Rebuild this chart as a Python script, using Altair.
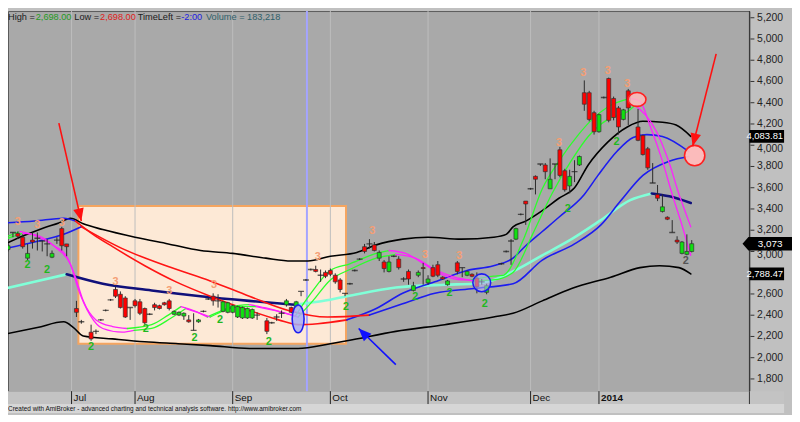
import altair as alt
import pandas as pd

# ---------------- candles (bar index, OHLC) ----------------
bars = [0, 1, 2, 3, 4, 5, 6, 7, 8, 9,
        10, 11, 12, 14, 15, 17, 18, 19, 20, 21,
        22, 23, 24, 25, 26, 27, 28, 29, 30, 31,
        32, 33, 34, 35, 36, 37, 38, 39, 40, 41,
        42, 43, 44, 45, 46, 47, 48, 49, 50, 51,
        53, 54, 55, 56, 57, 58, 59, 60, 61, 62,
        63, 64, 65, 66, 67, 68, 69, 70, 71, 72,
        73, 74, 75, 76, 77, 78, 79, 80, 81, 82,
        83, 84, 85, 86, 87, 88, 89, 90, 92, 93,
        94, 95, 96, 97, 98, 101, 102, 103, 104, 105,
        106, 107, 108, 109, 110, 111, 112, 113, 114, 115,
        116, 117, 118, 119, 120, 121, 122, 123, 124, 125,
        126, 127, 129, 130, 131, 132, 133, 134, 135, 136,
        137, 138, 139, 140]
opens = [3018, 3179, 3170, 3134, 2937, 3107, 3125, 3098, 3071, 2946,
         3107, 3215, 3071, 2463, 2338, 2240, 2248, 2356, 2445, 2544,
         2642, 2597, 2562, 2472, 2535, 2526, 2463, 2409, 2499, 2490,
         2517, 2535, 2409, 2401, 2392, 2356, 2257, 2338, 2436, 2553,
         2579, 2535, 2436, 2427, 2427, 2383, 2374, 2374, 2374, 2401,
         2347, 2329, 2383, 2418, 2499, 2472, 2481, 2624, 2732, 2830,
         2830, 2776, 2803, 2821, 2776, 2732, 2606, 2696, 2821, 2928,
         3045, 3071, 3062, 2937, 2901, 2812, 2955, 2928, 2741, 2812,
         2633, 2776, 2848, 2705, 2848, 2875, 2758, 2687, 2893, 2848,
         2776, 2785, 2749, 2714, 2615, 2884, 3000, 3098, 3116, 3349,
         3474, 3590, 3707, 3823, 3814, 3590, 3823, 3957, 3760, 3617,
         3751, 3814, 4494, 4494, 4306, 4127, 4449, 4628, 4440, 4351,
         4243, 4512, 4172, 4091, 3966, 3644, 3537, 3376, 3322, 3179,
         3107, 2982, 2973, 3000]
highs = [3071, 3179, 3188, 3161, 3071, 3179, 3179, 3098, 3116, 3009,
         3134, 3232, 3071, 2535, 2356, 2311, 2266, 2365, 2454, 2553,
         2669, 2624, 2579, 2472, 2553, 2553, 2472, 2418, 2517, 2499,
         2526, 2553, 2445, 2436, 2427, 2401, 2418, 2365, 2445, 2562,
         2606, 2597, 2535, 2526, 2499, 2490, 2481, 2472, 2463, 2427,
         2374, 2338, 2409, 2445, 2553, 2481, 2535, 2624, 2741, 2839,
         2866, 2830, 2821, 2839, 2794, 2749, 2606, 2705, 2830, 2937,
         3071, 3116, 3089, 3009, 2919, 2955, 2964, 2955, 2758, 2830,
         2714, 2821, 2893, 2776, 2875, 2910, 2767, 2732, 2910, 2848,
         2821, 2794, 2803, 2741, 2696, 2893, 3009, 3116, 3224, 3358,
         3474, 3599, 3716, 3823, 3832, 3876, 3823, 3984, 3778, 3769,
         3859, 3903, 4610, 4512, 4324, 4297, 4458, 4637, 4458, 4368,
         4342, 4530, 4342, 4100, 3984, 3832, 3626, 3537, 3331, 3295,
         3143, 3098, 3161, 3107]
lows = [3000, 3134, 3116, 3027, 2919, 3027, 3009, 3000, 2955, 2937,
        3071, 3009, 2955, 2383, 2320, 2159, 2222, 2347, 2436, 2535,
        2562, 2463, 2374, 2356, 2472, 2401, 2311, 2401, 2445, 2454,
        2490, 2445, 2401, 2392, 2356, 2329, 2257, 2329, 2427, 2544,
        2490, 2472, 2427, 2418, 2418, 2374, 2365, 2365, 2365, 2356,
        2222, 2320, 2347, 2374, 2481, 2418, 2472, 2579, 2723, 2821,
        2803, 2714, 2749, 2767, 2696, 2615, 2579, 2687, 2812, 2919,
        2982, 3027, 3000, 2910, 2803, 2803, 2946, 2830, 2714, 2687,
        2624, 2758, 2687, 2687, 2758, 2758, 2732, 2678, 2785, 2758,
        2767, 2758, 2606, 2687, 2597, 2875, 2991, 2875, 3107, 3340,
        3250, 3581, 3537, 3805, 3680, 3590, 3680, 3698, 3563, 3546,
        3653, 3805, 4324, 4225, 4100, 4118, 4440, 4216, 4234, 4100,
        4234, 4190, 4038, 3903, 3769, 3644, 3474, 3367, 3295, 3179,
        3071, 2973, 2964, 2991]
closes = [3054, 3179, 3143, 3045, 2982, 3089, 3125, 3098, 3071, 2982,
          3107, 3054, 3045, 2427, 2338, 2177, 2248, 2356, 2445, 2544,
          2579, 2472, 2383, 2472, 2490, 2418, 2329, 2409, 2472, 2463,
          2499, 2463, 2436, 2427, 2418, 2338, 2257, 2356, 2436, 2553,
          2535, 2535, 2526, 2517, 2490, 2481, 2472, 2463, 2454, 2401,
          2248, 2329, 2383, 2418, 2535, 2427, 2526, 2624, 2732, 2830,
          2812, 2776, 2767, 2785, 2714, 2642, 2606, 2696, 2821, 2928,
          3000, 3071, 3009, 2991, 2839, 2901, 2955, 2848, 2741, 2741,
          2678, 2803, 2839, 2741, 2767, 2776, 2741, 2723, 2812, 2848,
          2812, 2767, 2669, 2714, 2678, 2884, 3000, 3098, 3215, 3349,
          3447, 3590, 3680, 3823, 3751, 3680, 3823, 3716, 3581, 3707,
          3751, 3894, 4386, 4243, 4127, 4288, 4449, 4234, 4261, 4172,
          4333, 4351, 4046, 3912, 3787, 3644, 3501, 3420, 3304, 3179,
          3089, 3089, 3000, 3073]

# ---------------- indicator lines ----------------
upper_b = [-0.6, 3.4, 7.4, 10.4, 12.8, 15.4, 19.4, 26, 32.8, 39.4, 46, 52.8, 58, 61.4, 66, 71.4, 75.4,
           80.8, 86, 92.8, 99.4, 102, 103.4, 106, 109.4, 112.8, 116, 118.8, 122.8, 126.8, 130, 134,
           136.8, 139.8]
upper_v = [3071, 3152, 3224, 3268, 3313, 3260, 3206, 3134, 3071, 3009, 2982, 2937, 2910, 2910, 2955,
           2991, 3062, 3116, 3134, 3116, 3134, 3161, 3232, 3286, 3385, 3501, 3599, 3814, 4029, 4172,
           4225, 4216, 4190, 4083.81]
lower_b = [-0.6, 6, 11.4, 13.4, 15.4, 21.4, 28, 34.8, 41.4, 49.4, 59.4, 66, 69.4, 79.4, 89.4, 99.4,
           103.4, 109.4, 115.4, 123.4, 129.4, 133.4, 137.4, 139.8]
lower_v = [2222, 2284, 2338, 2284, 2204, 2177, 2150, 2132, 2114, 2087, 2087, 2132, 2159, 2248, 2311,
           2383, 2418, 2535, 2651, 2758, 2848, 2866, 2848, 2788.47]

ma_a_b = [-0.6, 5.4, 11.4, 13.8, 17.4, 21.4, 28, 34.4, 41.4, 49.4, 55.4, 59.4, 63.4, 69.4, 75.4, 80.8,
          87.4, 94, 99.4, 103.4, 106, 109.4, 112.8, 118, 120.8, 124.8, 128, 130.8, 134, 139.4]
ma_a_v = [3268, 3286, 3313, 3286, 3161, 3045, 2866, 2714, 2579, 2445, 2356, 2311, 2320, 2356, 2463,
          2606, 2714, 2821, 2866, 2937, 3054, 3188, 3322, 3537, 3716, 3948, 4073, 4100, 4082, 3939]
ma_a_c = "bbbrrrrrrrrrrbbbbbbbbbbbbbbbb"

ma_b_b = [-0.6, 5.4, 11.4, 15, 23.4, 33.4, 41.4, 49.4, 57.4, 65.4, 74, 80.8, 87.4, 95.4, 103.4, 109.4,
          116, 121.4, 125.4, 130, 135.4, 139.4]
ma_b_v = [3027, 3089, 3161, 3232, 3027, 2848, 2723, 2579, 2445, 2383, 2401, 2508, 2606, 2651, 2696,
          2919, 3071, 3250, 3474, 3716, 3850, 3894]
ma_b_c = "bbbrrrrrrrbbbbbbbbbbb"

trend_b = [-0.6, 5.4, 12, 19.4, 29.4, 39.4, 49.4, 58.8, 63.4, 69.4, 79.4, 89.4, 95.4, 99.4, 103.4,
           109.4, 115.4, 121.4, 127.4, 131.8, 135.4, 139.8]
trend_v = [2651, 2714, 2785, 2696, 2633, 2579, 2535, 2499, 2526, 2579, 2660, 2687, 2696, 2732, 2812,
           2964, 3116, 3295, 3483, 3546, 3519, 3456]
trend_c = "ccnnnnnccccccccccccnn"

fast1_b = [-0.6, 2.4, 5.4, 9.4, 12, 13.8, 15.4, 18, 21.4, 24.4, 29.4, 32.8, 35.4, 38.4, 40.8, 43.4,
           46, 49.4, 53.4, 58.8, 62, 66, 70, 75.4, 78, 81.4, 84.8, 88.8, 92.8, 94.8, 99.4, 101.4, 105.4,
           109.4, 112.8, 116.8, 119.4, 122.8, 127.4, 129.4, 131.4, 134, 136, 137.8, 139.8]
fast1_v = [3134, 3188, 3152, 3054, 2955, 2758, 2535, 2356, 2293, 2275, 2311, 2401, 2481, 2436, 2383,
           2436, 2481, 2499, 2463, 2392, 2606, 2821, 2884, 2982, 3009, 2982, 2893, 2785, 2732, 2732,
           2767, 2776, 3098, 3590, 3850, 4100, 4234, 4360, 4440, 4413, 4190, 3850, 3537, 3277, 2964]
fast1_c = "gmmmmmmmmgggmmgggmmgggggmmmmmgggggggggmmmmmm"

fast2_b = [-0.6, 3, 6, 10, 12.8, 14.4, 16.8, 19.4, 23.4, 25.8, 29.4, 33.4, 36.4, 39.4, 41.4, 44.4,
           47.4, 50.8, 55.4, 59.4, 62.4, 66, 70, 75.4, 79.4, 83.4, 87.4, 91.4, 95.4, 99.4, 103.4, 107.4,
           111.4, 115.4, 118.8, 122.8, 126.8, 128.4, 132.8, 135.4, 137.4, 138.8, 139.8]
fast2_v = [3116, 3170, 3152, 3027, 2875, 2642, 2401, 2275, 2240, 2257, 2275, 2374, 2463, 2418, 2383,
           2445, 2481, 2481, 2436, 2383, 2535, 2732, 2830, 2937, 2973, 2937, 2830, 2758, 2723, 2732,
           2803, 3161, 3546, 3859, 4082, 4243, 4315, 4377, 4127, 3832, 3537, 3358, 3232]
fast2_c = "gmmmmmmmmgggmmgggmmgggggmmmmgggggggggmmmmm"

# ---------------- annotations ----------------
three_b = [2, 6, 11, 22, 33, 42.2, 63.4, 74.6, 85.4, 92.4, 112.8, 117.8, 122.8, 126.8]
three_v = [3277, 3250, 3268, 2714, 2624, 2687, 2946, 3197, 2964, 2955, 4020, 4682, 4699, 4574]
two_b = [4, 8, 17, 28.2, 38.2, 43.4, 53.4, 69.2, 83.4, 90.4, 97.6, 114.6, 124.6]
two_v = [2875, 2821, 2105, 2266, 2186, 2356, 2150, 2481, 2571, 2606, 2508, 3402, 4029]
gray_two_b = [138.8]
gray_two_v = [2910]

box_bars = [14.4, 69.2]
box_vals = [3429, 2132]
cursor_bar = [61.2]

month_bars = [13, 26, 46, 66, 86, 107, 121]
month_labels = ["Jul", "Aug", "Sep", "Oct", "Nov", "Dec", "2014"]
y_ticks = list(range(1800, 5201, 200))
# labels visible on the price panel (2,800 is hidden under the 2,788.47 marker; 4,000 and 3,000 sit
# half under the markers, so they are placed just below them)
y_label_vals = [1800, 2000, 2200, 2400, 2600, 3200, 3400, 3600, 3800, 4200, 4400, 4600, 4800,
                5000, 5200]
y_label_low = [3000, 4000]
y_domain = [1685, 5263]

arrow_b0 = [10.4, 145, 79.4]
arrow_v0 = [4208, 4860, 1935]
arrow_b1 = [15.0, 140.2, 71.8]
arrow_v1 = [3286, 3993, 2275]
arrow_col = ["#ff1010", "#ff1010", "#1010ff"]
arrow_ang = [167, 194, 315]

last_upper = 4083.81
last_close = 3073
last_lower = 2788.47

# ---------------- build ----------------
COLORS = {"k": "#000000", "b": "#1c1cf0", "r": "#ff1414", "g": "#2cff2c",
          "m": "#ff20ff", "c": "#80ffd8", "n": "#10107a"}
WIDTHS = {"k": 1.6, "b": 1.6, "r": 1.6, "g": 1.3, "m": 1.3, "c": 2.6, "n": 2.6}


def line_rows(name, bs, vs, cs):
    rows = []
    seg = 0
    for i in range(len(bs) - 1):
        if i > 0 and cs[i] != cs[i - 1]:
            seg += 1
        key = f"{name}-{seg}"
        for j in (i, i + 1):
            if rows and rows[-1]["key"] == key and rows[-1]["ord"] == j:
                continue
            rows.append({"key": key, "b": bs[j], "v": vs[j], "col": COLORS[cs[i]],
                         "w": WIDTHS[cs[i]], "ord": j})
    return rows


rows = []
rows += line_rows("upper", upper_b, upper_v, "k" * (len(upper_b) - 1))
rows += line_rows("lower", lower_b, lower_v, "k" * (len(lower_b) - 1))
rows += line_rows("trend", trend_b, trend_v, trend_c)
rows += line_rows("maa", ma_a_b, ma_a_v, ma_a_c)
rows += line_rows("mab", ma_b_b, ma_b_v, ma_b_c)
rows += line_rows("f1", fast1_b, fast1_v, fast1_c)
rows += line_rows("f2", fast2_b, fast2_v, fast2_c)
ldf = pd.DataFrame(rows)

W, H = 749, 384
RP = 35  # right price panel
FONT = "Liberation Sans"
xsc = alt.Scale(domain=[1.0, 150.8], nice=False, zero=False)
ysc = alt.Scale(domain=y_domain, nice=False, zero=False)


def X(f="b"):
    return alt.X(f"{f}:Q", scale=xsc, axis=None)


def Y(f="v"):
    return alt.Y(f"{f}:Q", scale=ysc, axis=None)


one = pd.DataFrame({"a": [0]})

box_df = pd.DataFrame({"b0": [box_bars[0]], "b1": [box_bars[1]], "v0": [box_vals[0]], "v1": [box_vals[1]]})
box = alt.Chart(box_df).mark_rect(fill="#fde9d6", stroke="#f5a560", strokeWidth=2).encode(
    x=X("b0"), x2="b1:Q", y=Y("v0"), y2="v1:Q")

grid = alt.Chart(pd.DataFrame({"b": month_bars})).mark_rule(color="#bdbdbd", strokeWidth=1).encode(x=X())
cursor = alt.Chart(pd.DataFrame({"b": cursor_bar})).mark_rule(color="#a4a4ff", strokeWidth=2).encode(x=X())

lines = alt.Chart(ldf).mark_line(interpolate="monotone", strokeCap="round", clip=True).encode(
    x=X(), y=Y(), detail="key:N", order="ord:Q",
    color=alt.Color("col:N", scale=None), strokeWidth=alt.StrokeWidth("w:Q", scale=None))

cdf = pd.DataFrame({"b": bars, "o": opens, "h": highs, "l": lows, "c": closes})
cdf["doji"] = (cdf["o"] - cdf["c"]).abs() < 5
cdf["fill"] = ["#10e010" if c > o else "#ff0000" for o, c in zip(cdf["o"], cdf["c"])]

wicks = alt.Chart(cdf).mark_rule(color="#2a2a2a", strokeWidth=1, clip=True).encode(
    x=X(), y=Y("l"), y2="h:Q")
bodies = alt.Chart(cdf[~cdf["doji"]]).mark_bar(width=4, stroke="#333333", strokeWidth=0.7,
                                               clip=True).encode(
    x=X(), y=Y("o"), y2="c:Q", color=alt.Color("fill:N", scale=None))
dojis = alt.Chart(cdf[cdf["doji"]]).mark_tick(orient="horizontal", size=6, thickness=1.4,
                                             color="#202020", clip=True).encode(x=X(), y=Y("c"))

threes = alt.Chart(pd.DataFrame({"b": three_b, "v": three_v})).mark_text(
    text="3", font=FONT, fontSize=11, fontWeight="bold", color="#f59e74", clip=True).encode(x=X(), y=Y())
twos = alt.Chart(pd.DataFrame({"b": two_b, "v": two_v})).mark_text(
    text="2", font=FONT, fontSize=11, fontWeight="bold", color="#1fb81f", clip=True).encode(x=X(), y=Y())
gtwos = alt.Chart(pd.DataFrame({"b": gray_two_b, "v": gray_two_v})).mark_text(
    text="2", font=FONT, fontSize=11, fontWeight="bold", color="#555555").encode(x=X(), y=Y())

ELL_V = "M -0.43 0 A 0.43 1 0 1 0 0.43 0 A 0.43 1 0 1 0 -0.43 0 Z"
ELL_H = "M -1 0 A 1 0.78 0 1 0 1 0 A 1 0.78 0 1 0 -1 0 Z"


def shape(b, v, path, size, fill, stroke, op):
    return alt.Chart(pd.DataFrame({"b": [b], "v": [v]})).mark_point(
        shape=path, size=size, filled=True, fill=fill, stroke=stroke, strokeWidth=1.6,
        fillOpacity=op, strokeOpacity=1, opacity=1).encode(x=X(), y=Y())


shape_b = [59.4, 97, 128.8, 140.6]
shape_v = [2365, 2705, 4431, 3903]
ell1 = shape(shape_b[0], shape_v[0], ELL_V, 784, "#a6acf4", "#1c1cf0", 0.85)
circ1 = shape(shape_b[1], shape_v[1], "circle", 324, "#b4b4f0", "#1c1cf0", 0.55)
ell2 = shape(shape_b[2], shape_v[2], ELL_H, 324, "#ffbcbc", "#ff2020", 0.85)
circ2 = shape(shape_b[3], shape_v[3], "circle", 420, "#ffbcbc", "#ff2020", 0.95)

adf = pd.DataFrame({"b0": arrow_b0, "v0": arrow_v0, "b1": arrow_b1, "v1": arrow_v1,
                    "col": arrow_col, "ang": arrow_ang})
arrow_lines = alt.Chart(adf).mark_rule(strokeWidth=1.6).encode(
    x=X("b0"), y=Y("v0"), x2="b1:Q", y2="v1:Q", color=alt.Color("col:N", scale=None))
HEAD = "M 0 0 L -0.42 1 L 0.42 1 Z"
arrow_heads = alt.Chart(adf).mark_point(shape=HEAD, size=650, filled=True, opacity=1).encode(
    x=X("b1"), y=Y("v1"), color=alt.Color("col:N", scale=None),
    angle=alt.Angle("ang:Q", scale=None))

# header texts inside plot
hdr = []
hdr_items = [("High =", 0, "#202020"), ("2,698.00", 28, "#1f9a1f"), ("Low =", 67, "#202020"),
             ("2,698.00", 93, "#e01c1c"), ("TimeLeft =", 131, "#202020"), ("-2:00", 175, "#2020e0"),
             ("Volume = 183,218", 200, "#2f5f6a")]
for txt, xx, col in hdr_items:
    hdr.append(alt.Chart(one).mark_text(text=txt, align="left", baseline="middle", font=FONT,
                                        fontSize=9.3, color=col).encode(x=alt.value(xx), y=alt.value(6)))

# price axis drawn by hand on the right panel
tdf = pd.DataFrame({"v": y_ticks})
axis_line = alt.Chart(one).mark_rule(color="#333333", strokeWidth=1).encode(
    x=alt.value(W), y=alt.value(0), y2=alt.value(H))
axis_ticks = alt.Chart(tdf).mark_rule(color="#333333", strokeWidth=1).encode(
    x=alt.value(W + 1), x2=alt.value(W + 5), y=Y())
axis_labels = alt.Chart(pd.DataFrame({"v": y_label_vals})).mark_text(
    align="right", baseline="middle", font=FONT, fontSize=10.5, color="#222222").encode(
    x=alt.value(W + RP - 1), y=Y(), text=alt.Text("v:Q", format=","))
axis_labels_low = alt.Chart(pd.DataFrame({"v": y_label_low})).mark_text(
    align="right", baseline="top", dy=-1, font=FONT, fontSize=10.5, color="#222222").encode(
    x=alt.value(W + RP - 1), y=Y(), text=alt.Text("v:Q", format=","))

# bottom strip with months
strip = alt.Chart(one).mark_rect(color="#c3c3c3").encode(
    x=alt.value(0), x2=alt.value(W + RP), y=alt.value(H), y2=alt.value(H + 13))
footer_bg = alt.Chart(one).mark_rect(color="#d6d6d6").encode(
    x=alt.value(0), x2=alt.value(W + RP), y=alt.value(H + 13), y2=alt.value(H + 22))
strip_axis = alt.Chart(one).mark_rule(color="#333333").encode(
    x=alt.value(W), y=alt.value(H), y2=alt.value(H + 13))
mdf = pd.DataFrame({"b": month_bars, "lab": month_labels,
                    "wt": ["normal"] * 6 + ["bold"]})
mticks = alt.Chart(mdf).mark_rule(color="#222222", strokeWidth=1).encode(
    x=X(), y=alt.value(H), y2=alt.value(H + 13))
mlabels = alt.Chart(mdf[mdf["wt"] == "normal"]).mark_text(
    align="left", baseline="middle", dx=2, font=FONT, fontSize=10, color="#111111").encode(
    x=X(), y=alt.value(H + 7), text="lab:N")
mlabels_b = alt.Chart(mdf[mdf["wt"] == "bold"]).mark_text(
    align="left", baseline="middle", dx=2, font=FONT, fontSize=10, fontWeight="bold",
    color="#111111").encode(x=X(), y=alt.value(H + 7), text="lab:N")
footer = alt.Chart(one).mark_text(
    text="Created with AmiBroker - advanced charting and technical analysis software. http://www.amibroker.com",
    align="left", baseline="middle", font=FONT, fontSize=6.5, color="#111111").encode(
    x=alt.value(0), y=alt.value(H + 18))

# last-value boxes on the price axis
RECT = "M -1 -0.37 L 1 -0.37 L 1 0.37 L -1 0.37 Z"
ARROWBOX = "M -1 0 L -0.76 -0.27 L 1 -0.27 L 1 0.27 L -0.76 0.27 Z"
box_df2 = pd.DataFrame({"v": [last_upper, last_lower], "lab": ["4,083.81", "2,788.47"]})
val_boxes = alt.Chart(box_df2).mark_point(shape=RECT, size=RP * RP, filled=True, color="#000000",
                                          opacity=1).encode(x=alt.value(W + RP / 2), y=Y())
val_text = alt.Chart(box_df2).mark_text(align="right", baseline="middle", font=FONT, fontSize=9.5,
                                        color="#ffffff").encode(x=alt.value(W + RP - 1), y=Y(), text="lab:N")
close_df = pd.DataFrame({"v": [last_close], "lab": ["3,073"]})
close_box = alt.Chart(close_df).mark_point(shape=ARROWBOX, size=2500, filled=True, color="#000000",
                                           opacity=1).encode(x=alt.value(W + 18), y=Y())
close_text = alt.Chart(close_df).mark_text(align="center", baseline="middle", font=FONT, fontSize=10,
                                           color="#ffffff").encode(x=alt.value(W + 21), y=Y(), text="lab:N")

chart = alt.layer(
    box, grid, cursor, lines, wicks, bodies, dojis, threes, twos, gtwos,
    ell1, circ1, ell2, circ2, arrow_lines, arrow_heads, *hdr,
    axis_line, axis_ticks, axis_labels, axis_labels_low,
    strip, footer_bg, strip_axis, mticks, mlabels, mlabels_b, footer,
    val_boxes, val_text, close_box, close_text
).properties(width=W, height=H, padding=0, background="#c0c0c0").configure_view(
    fill="#a9a9a9", stroke="#5a5a5a", strokeWidth=1)

chart.save("out.html", embed_options={"renderer": "svg", "actions": False})
